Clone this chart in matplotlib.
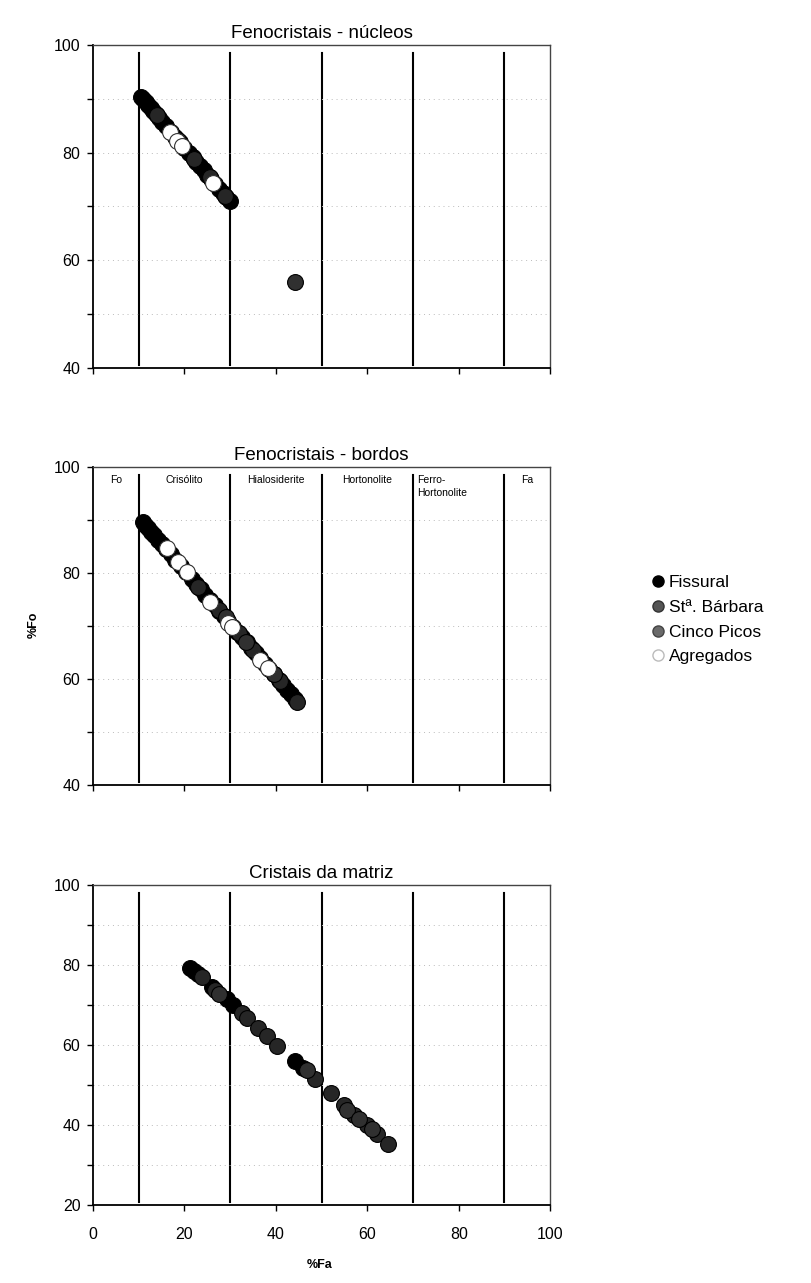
import matplotlib
matplotlib.use('Agg')
import matplotlib.pyplot as plt
from matplotlib.lines import Line2D

plt.rcParams['font.family'] = ['Liberation Sans', 'DejaVu Sans']

# ── dados: Fenocristais - núcleos ─────────────
nuc_fis_fa = [10.6, 11.0, 11.5, 12.0, 12.6, 13.2, 13.8, 14.5, 15.2, 16.0, 17.0, 18.0, 19.0,
              20.0, 21.0, 21.8, 22.6, 23.4, 24.2, 25.0, 25.8, 26.8, 27.6, 28.4, 29.2, 30.0]
nuc_fis_fo = [90.3, 89.9, 89.4, 88.9, 88.3, 87.7, 87.1, 86.4, 85.7, 84.9, 83.9, 82.9, 81.9,
              80.9, 79.9, 79.1, 78.3, 77.5, 76.7, 75.9, 75.1, 74.1, 73.3, 72.5, 71.7, 71.0]
nuc_stb_fa = [14.0, 18.5, 22.0, 25.5, 28.8]
nuc_stb_fo = [86.9, 82.4, 78.9, 75.4, 72.0]
nuc_cp_fa = [44.3]
nuc_cp_fo = [56.0]
nuc_agr_fa = [16.8, 18.4, 19.5, 26.3]
nuc_agr_fo = [83.9, 82.2, 81.3, 74.4]

# ── dados: Fenocristais - bordos ──────────────
bor_fis_fa = [10.9, 11.4, 12.0, 12.7, 13.4, 14.2, 15.0, 16.0, 17.0, 18.0, 19.2, 20.4, 21.6,
              22.6, 23.6, 24.6, 25.6, 26.6, 27.6, 28.6, 29.6, 30.6, 31.6, 32.6, 33.6, 34.6,
              35.6, 36.6, 37.6, 38.6, 39.6, 40.6, 41.6, 42.5, 43.4, 44.2]
bor_fis_fo = [89.6, 89.1, 88.5, 87.8, 87.1, 86.3, 85.5, 84.5, 83.5, 82.5, 81.3, 80.1, 78.9,
              77.9, 76.9, 75.9, 74.9, 73.9, 72.9, 71.9, 70.9, 69.9, 68.9, 67.9, 66.9, 65.9,
              64.9, 63.9, 62.9, 61.9, 60.9, 59.9, 58.9, 58.0, 57.1, 56.3]
bor_stb_fa = [23.0, 27.5, 32.0, 35.0, 41.0, 44.6]
bor_stb_fo = [77.4, 73.0, 68.6, 65.5, 59.6, 55.7]
bor_cp_fa = [29.0, 33.5, 39.5]
bor_cp_fo = [71.6, 67.0, 61.0]
bor_agr_fa = [16.2, 18.6, 20.5, 25.6, 29.6, 30.4, 36.5, 38.3]
bor_agr_fo = [84.7, 82.1, 80.2, 74.5, 70.6, 69.8, 63.6, 62.1]

# ── dados: Cristais da matriz ─────────────────
mat_fis_fa = [21.2, 22.0, 23.0, 26.0, 29.3, 30.6, 44.2, 46.0]
mat_fis_fo = [79.2, 78.6, 77.7, 74.5, 71.5, 70.0, 56.0, 54.2]
mat_stb_fa = [23.8, 26.7, 32.6, 33.7, 36.1, 38.1, 40.3, 48.6, 52.1, 54.9, 57.1, 59.9, 62.1, 64.6]
mat_stb_fo = [77.0, 73.7, 68.0, 66.7, 64.2, 62.3, 59.8, 51.5, 48.0, 45.0, 42.5, 40.0, 37.8, 35.3]
mat_cp_fa = [27.6, 46.8, 55.6, 58.2, 61.0]
mat_cp_fo = [72.8, 53.7, 43.7, 41.4, 39.0]

campos = ['Fo', 'Crisólito', 'Hialosiderite', 'Hortonolite', 'Ferro-\nHortonolite', 'Fa']
campos_x = [5, 20, 40, 60, 71, 95]
limites = [10, 30, 50, 70, 90]

C_FIS, C_STB, C_CP = '#000000', '#262626', '#303030'

fig = plt.figure(figsize=(8.12, 12.83), dpi=100)
left, width = 0.1145, 0.563
ax1 = fig.add_axes([left, 0.7132, width, 0.2518])
ax2 = fig.add_axes([left, 0.3881, width, 0.2480])
ax3 = fig.add_axes([left, 0.0608, width, 0.2494])

paineis = [
    (ax1, 'Fenocristais - núcleos', (40, 100),
     [(nuc_fis_fa, nuc_fis_fo), (nuc_stb_fa, nuc_stb_fo), (nuc_cp_fa, nuc_cp_fo), (nuc_agr_fa, nuc_agr_fo)]),
    (ax2, 'Fenocristais - bordos', (40, 100),
     [(bor_fis_fa, bor_fis_fo), (bor_stb_fa, bor_stb_fo), (bor_cp_fa, bor_cp_fo), (bor_agr_fa, bor_agr_fo)]),
    (ax3, 'Cristais da matriz', (20, 100),
     [(mat_fis_fa, mat_fis_fo), (mat_stb_fa, mat_stb_fo), (mat_cp_fa, mat_cp_fo), ([], [])]),
]

estilos = [dict(c=C_FIS, edgecolors='black'),
           dict(c=C_STB, edgecolors='black'),
           dict(c=C_CP, edgecolors='black'),
           dict(c='white', edgecolors='#333333')]

for ax, titulo, ylim, series in paineis:
    ax.set_xlim(0, 100)
    ax.set_ylim(*ylim)
    ax.set_yticks(range(ylim[0], 101, 10))
    ax.set_yticklabels([str(v) if v % 20 == 0 else '' for v in range(ylim[0], 101, 10)])
    ax.set_xticks(range(0, 101, 20))
    ax.tick_params(direction='out', length=4, width=1, labelsize=11.5, colors='black')
    ax.tick_params(axis='x', pad=12)
    ax.tick_params(axis='y', pad=5)
    ax.grid(axis='y', color='#bbbbbb', linestyle=(0, (1, 4)), linewidth=0.7)
    for x in limites:
        ax.axvline(x, ymin=0.01, ymax=0.975, color='black', linewidth=1.5, zorder=1)
    for sp in ['left', 'bottom']:
        ax.spines[sp].set_linewidth(1.3)
    for sp in ['top', 'right']:
        ax.spines[sp].set_color('#444444')
        ax.spines[sp].set_linewidth(1.0)
    ax.set_title(titulo, fontsize=13.5, pad=5)
    for (fa, fo), st in zip(series, estilos):
        if fa:
            ax.scatter(fa, fo, s=130, linewidths=0.8, zorder=3, **st)
    if ax is not ax3:
        ax.set_xticklabels([])

for txt, x in zip(campos, campos_x):
    ha = 'left' if txt.startswith('Ferro') else 'center'
    ax2.text(x, 98.5, txt, ha=ha, va='top', fontsize=7.5, linespacing=1.4)

fig.text(0.041, 0.513, '%Fo', rotation=90, ha='center', va='center', fontsize=9, fontweight='bold')
fig.text(0.394, 0.014, '%Fa', ha='center', va='center', fontsize=9, fontweight='bold')

handles = [
    Line2D([], [], marker='o', linestyle='', markersize=8, markerfacecolor=C_FIS, markeredgecolor='black'),
    Line2D([], [], marker='o', linestyle='', markersize=8, markerfacecolor='#555555', markeredgecolor='#333333'),
    Line2D([], [], marker='o', linestyle='', markersize=8, markerfacecolor='#6a6a6a', markeredgecolor='#444444'),
    Line2D([], [], marker='o', linestyle='', markersize=8, markerfacecolor='white', markeredgecolor='#bbbbbb'),
]
labels = ['Fissural', 'Stª. Bárbara', 'Cinco Picos', 'Agregados']
fig.legend(handles, labels, loc='center left', bbox_to_anchor=(0.78, 0.517), frameon=False,
           fontsize=12.5, handletextpad=0.15, labelspacing=0.55, handlelength=1.0)

fig.savefig('out.png', dpi=100)
